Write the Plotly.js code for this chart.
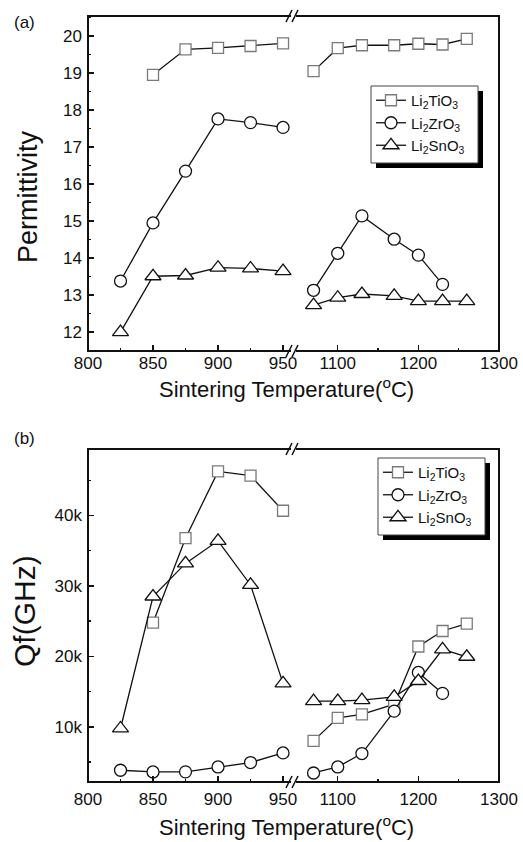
<!DOCTYPE html>
<html>
<head>
<meta charset="utf-8">
<script src="https://cdn.plot.ly/plotly-3.0.1.min.js"></script>
<style>html,body{margin:0;padding:0;background:#fff;}#chart{width:523px;height:842px;}</style>
</head>
<body>
<div id="chart"></div>
<script>
// ---- data ----
var tempLow  = [825, 850, 875, 900, 925, 950];
var tempHigh = [1070, 1100, 1130, 1170, 1200, 1230, 1260];

var permTiLow  = [null, 18.95, 19.64, 19.68, 19.73, 19.80];
var permTiHigh = [19.05, 19.67, 19.75, 19.75, 19.79, 19.77, 19.92];
var permZrLow  = [13.38, 14.95, 16.35, 17.76, 17.66, 17.53];
var permZrHigh = [13.13, 14.13, 15.14, 14.51, 14.08, 13.29, null];
var permSnLow  = [12.00, 13.51, 13.53, 13.74, 13.72, 13.65];
var permSnHigh = [12.73, 12.93, 13.03, 12.98, 12.84, 12.84, 12.84];

var qfTiLow  = [null, 24780, 36780, 46260, 45650, 40670];
var qfTiHigh = [8000, 11270, 11750, 13200, 21400, 23600, 24640];
var qfZrLow  = [3830, 3590, 3600, 4300, 4920, 6290];
var qfZrHigh = [3440, 4300, 6200, 12220, 17720, 14740, null];
var qfSnLow  = [9760, 28500, 33200, 36400, 30140, 16160];
var qfSnHigh = [13640, 13640, 13780, 14250, 16500, 21000, 19940];

var seriesNames = ['Li<sub>2</sub>TiO<sub>3</sub>', 'Li<sub>2</sub>ZrO<sub>3</sub>', 'Li<sub>2</sub>SnO<sub>3</sub>'];
var lowTickVals = [800, 850, 900, 950];
var highTickVals = [1100, 1200, 1300];
var qfTickVals = [10000, 20000, 30000, 40000];
var qfTickText = ['10k', '20k', '30k', '40k'];

// ---- styles ----
var FONT = 'Arial, "Liberation Sans", sans-serif';
var styles = [
  {symbol: 'square', size: 11, edge: '#7a7a7a'},
  {symbol: 'circle', size: 12, edge: '#111'},
  {symbol: 'triangle-up', size: 14, edge: '#111'}
];
function tr(x, y, i, xa, ya, legendId, show) {
  return {
    x: x, y: y, xaxis: xa, yaxis: ya, type: 'scatter', mode: 'lines+markers',
    name: seriesNames[i], legend: legendId, showlegend: show, connectgaps: false,
    line: {color: '#111', width: 1.3},
    marker: {symbol: styles[i].symbol, size: styles[i].size, color: '#fff',
             line: {color: styles[i].edge, width: 1.3}}
  };
}
var data = [
  tr(tempLow, permTiLow, 0, 'x', 'y', 'legend', true),
  tr(tempLow, permZrLow, 1, 'x', 'y', 'legend', true),
  tr(tempLow, permSnLow, 2, 'x', 'y', 'legend', true),
  tr(tempHigh, permTiHigh, 0, 'x2', 'y', 'legend', false),
  tr(tempHigh, permZrHigh, 1, 'x2', 'y', 'legend', false),
  tr(tempHigh, permSnHigh, 2, 'x2', 'y', 'legend', false),
  tr(tempLow, qfTiLow, 0, 'x3', 'y2', 'legend2', true),
  tr(tempLow, qfZrLow, 1, 'x3', 'y2', 'legend2', true),
  tr(tempLow, qfSnLow, 2, 'x3', 'y2', 'legend2', true),
  tr(tempHigh, qfTiHigh, 0, 'x4', 'y2', 'legend2', false),
  tr(tempHigh, qfZrHigh, 1, 'x4', 'y2', 'legend2', false),
  tr(tempHigh, qfSnHigh, 2, 'x4', 'y2', 'legend2', false)
];

// ---- geometry (pixels) ----
var ML = 88, MR = 24, MT = 16, MB = 60, WIDTH = 523, HEIGHT = 842;
var PW = WIDTH - ML - MR, PH = HEIGHT - MT - MB;
function px(xp) { return (xp - ML) / PW; }
function py(yp) { return (HEIGHT - MB - yp) / PH; }
var fb = px(295);
var domA = [py(351), 1], domB = [0, py(449)];

var tickFont = {family: FONT, size: 17, color: '#111'};
function xax(dom, range, tickvals, minorvals, anchor, standoff) {
  return {domain: dom, range: range, anchor: anchor, tickmode: 'array', tickvals: tickvals,
    ticks: 'inside', ticklen: 6, tickwidth: 1.5, tickcolor: '#111', showline: false,
    showgrid: false, zeroline: false, tickfont: tickFont, ticklabelstandoff: standoff,
    minor: {tickmode: 'array', tickvals: minorvals, ticks: 'inside', ticklen: 3, tickwidth: 1.5, tickcolor: '#111', showgrid: false}};
}
function ann(text, x, y, size, angle) {
  var a = {text: text, xref: 'paper', yref: 'paper', x: px(x), y: py(y), xanchor: 'center', yanchor: 'middle',
    showarrow: false, font: {size: size, family: FONT, color: '#111'}};
  if (angle) a.textangle = angle;
  return a;
}

var layout = {
  width: WIDTH, height: HEIGHT, margin: {l: ML, r: MR, t: MT, b: MB},
  paper_bgcolor: '#fff', plot_bgcolor: 'rgba(0,0,0,0)', font: {family: FONT, color: '#111'},
  xaxis: xax([0, fb], [800, 959.2], lowTickVals, [825, 875, 925], 'y', 0),
  xaxis2: xax([fb, 1], [1047, 1300], highTickVals, [1150, 1250], 'y', 0),
  xaxis3: xax([0, fb], [800, 959.2], lowTickVals, [825, 875, 925], 'y2', 5),
  xaxis4: xax([fb, 1], [1047, 1300], highTickVals, [1150, 1250], 'y2', 5),
  yaxis: {domain: domA, range: [11.49, 20.54], anchor: 'x', dtick: 1, ticks: 'inside', ticklen: 6, tickwidth: 1.5,
    tickcolor: '#111', showgrid: false, zeroline: false, showline: false, tickfont: tickFont, ticklabelstandoff: 5,
    minor: {dtick: 0.5, ticks: 'inside', ticklen: 3, tickwidth: 1.5, tickcolor: '#111', showgrid: false}},
  yaxis2: {domain: domB, range: [2160, 49440], anchor: 'x3', tickmode: 'array', tickvals: qfTickVals, ticktext: qfTickText,
    ticks: 'inside', ticklen: 6, tickwidth: 1.5, tickcolor: '#111', showgrid: false, zeroline: false, showline: false,
    tickfont: tickFont, ticklabelstandoff: 5,
    minor: {tickmode: 'linear', tick0: 0, dtick: 5000, ticks: 'inside', ticklen: 3, tickwidth: 1.5, tickcolor: '#111', showgrid: false}},
  legend: {x: px(371), y: py(84), xanchor: 'left', yanchor: 'top', bgcolor: 'rgba(0,0,0,0)', borderwidth: 0,
    font: {family: FONT, size: 15, color: '#111'}, tracegroupgap: 0},
  legend2: {x: px(378), y: py(456), xanchor: 'left', yanchor: 'top', bgcolor: 'rgba(0,0,0,0)', borderwidth: 0,
    font: {family: FONT, size: 15, color: '#111'}, tracegroupgap: 0},
  shapes: [],
  annotations: [
    ann('(a)', 24, 22, 17),
    ann('(b)', 24, 438, 17),
    ann('Sintering Temperature(<sup>o</sup>C)', 286, 388, 22),
    ann('Sintering Temperature(<sup>o</sup>C)', 286, 826, 22),
    ann('Permittivity', 28, 197, 27, -90),
    ann('Qf(GHz)', 24, 611, 30, -90)
  ]
};

// frames and axis-break marks
[domA, domB].forEach(function (d) {
  layout.shapes.push({type: 'rect', xref: 'paper', yref: 'paper', x0: 0, x1: 1, y0: d[0], y1: d[1], line: {color: '#111', width: 2}});
  [d[0], d[1]].forEach(function (yy) {
    layout.shapes.push({type: 'rect', xref: 'paper', yref: 'paper', xsizemode: 'pixel', ysizemode: 'pixel',
      xanchor: fb, yanchor: yy, x0: -4, x1: 1, y0: -3, y1: 3, fillcolor: '#fff', line: {width: 0}});
    layout.shapes.push({type: 'line', xref: 'paper', yref: 'paper', xsizemode: 'pixel', ysizemode: 'pixel',
      xanchor: fb, yanchor: yy, x0: -9, x1: -3, y0: -6, y1: 6, line: {color: '#111', width: 1.6}});
    layout.shapes.push({type: 'line', xref: 'paper', yref: 'paper', xsizemode: 'pixel', ysizemode: 'pixel',
      xanchor: fb, yanchor: yy, x0: -3, x1: 3, y0: -6, y1: 6, line: {color: '#111', width: 1.6}});
  });
});
// legend boxes with drop shadows (drawn as shapes, legend content sits on top)
function legendBox(l, t, w, h) {
  layout.shapes.push({type: 'rect', xref: 'paper', yref: 'paper', layer: 'above',
    x0: px(l + 5), x1: px(l + w + 5), y0: py(t + h + 5), y1: py(t + 5), fillcolor: '#000', line: {width: 0}});
  layout.shapes.push({type: 'rect', xref: 'paper', yref: 'paper', layer: 'above',
    x0: px(l), x1: px(l + w), y0: py(t + h), y1: py(t), fillcolor: '#fff', line: {color: '#444', width: 1}});
}
legendBox(371, 86, 107, 77);
legendBox(378, 458, 107, 77);

Plotly.newPlot('chart', data, layout, {displayModeBar: false, staticPlot: true});
</script>
</body>
</html>
